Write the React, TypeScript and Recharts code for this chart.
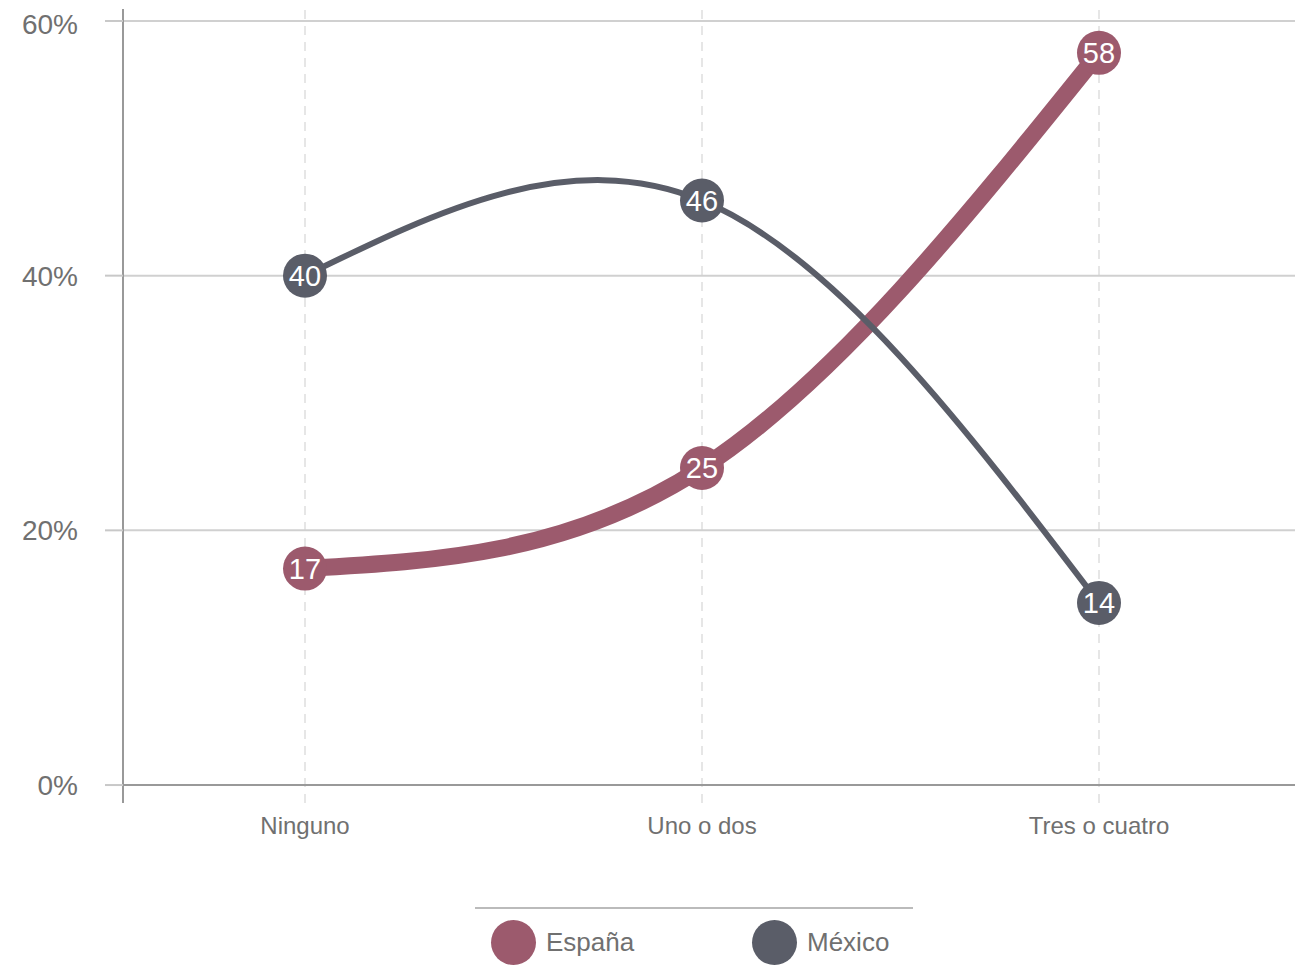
import {
  ComposedChart,
  Line,
  XAxis,
  YAxis,
  ReferenceLine,
} from "recharts";

const categories = ["Ninguno", "Uno o dos", "Tres o cuatro"];
const espana = [17, 24.9, 57.5];
const mexico = [40, 45.9, 14.3];
const yTicks = [0, 20, 40, 60];

const series = [
  { key: "espana", name: "España", color: "#9c5a6d", width: 17 },
  { key: "mexico", name: "México", color: "#5a5d68", width: 6 },
];

const data = categories.map((c, i) => ({ cat: c, espana: espana[i], mexico: mexico[i] }));

const FONT = "'Liberation Sans', Arial, sans-serif";

function makeDot(color: string) {
  return (props: any) => {
    const { cx, cy, value, index } = props;
    if (cx == null || cy == null) return <g key={index} />;
    return (
      <g key={`dot-${index}`}>
        <circle cx={cx} cy={cy} r={22} fill={color} />
        <text
          x={cx}
          y={cy}
          dy={10}
          textAnchor="middle"
          fill="#fff"
          fontSize={29}
          fontFamily={FONT}
        >
          {Math.round(value)}
        </text>
      </g>
    );
  };
}

export default function App() {
  return (
    <div style={{ width: 1297, fontFamily: FONT }}>
      <ComposedChart
        width={1297}
        height={850}
        data={data}
        margin={{ top: 1, right: 10, bottom: 0, left: 0 }}
      >
        <XAxis
          dataKey="cat"
          type="category"
          scale="point"
          padding={{ left: 182, right: 196 }}
          axisLine={false}
          tickLine={false}
          tickSize={6}
          tickMargin={8}
          height={55}
          tick={{ fill: "#707070", fontSize: 24, fontFamily: FONT }}
        />
        <YAxis
          type="number"
          domain={[-1.41, 60.94]}
          allowDataOverflow
          ticks={yTicks}
          width={115}
          tickSize={18}
          tickMargin={27}
          axisLine={{ stroke: "#999", strokeWidth: 2 }}
          tickLine={{ stroke: "#c8c8c8", strokeWidth: 2 }}
          tickFormatter={(v) => `${v}%`}
          tick={{ fill: "#707070", fontSize: 28, fontFamily: FONT }}
        />
        {categories.map((c) => (
          <ReferenceLine key={c} x={c} stroke="#dedede" strokeWidth={1.5} strokeDasharray="9 7" />
        ))}
        {yTicks
          .filter((t) => t > 0)
          .map((t) => (
            <ReferenceLine key={t} y={t} stroke="#d0d0d0" strokeWidth={2} />
          ))}
        <ReferenceLine y={0} stroke="#999" strokeWidth={2} />
        {series.map((s) => (
          <Line
            key={s.key}
            type="natural"
            dataKey={s.key}
            name={s.name}
            stroke={s.color}
            strokeWidth={s.width}
            dot={makeDot(s.color)}
            activeDot={false}
            isAnimationActive={false}
          />
        ))}
      </ComposedChart>
      <div
        style={{
          position: "relative",
          marginLeft: 467,
          marginTop: 49,
          width: 438,
          borderTop: "2px solid #bbb",
          height: 60,
        }}
      >
        {series.map((s, i) => (
          <div
            key={s.key}
            style={{
              position: "absolute",
              left: i === 0 ? 16 : 277,
              top: 11,
              display: "flex",
              alignItems: "center",
            }}
          >
            <span
              style={{
                display: "inline-block",
                width: 45,
                height: 45,
                borderRadius: "50%",
                background: s.color,
              }}
            />
            <span style={{ marginLeft: 10, fontSize: 26, color: "#707070" }}>{s.name}</span>
          </div>
        ))}
      </div>
    </div>
  );
}
